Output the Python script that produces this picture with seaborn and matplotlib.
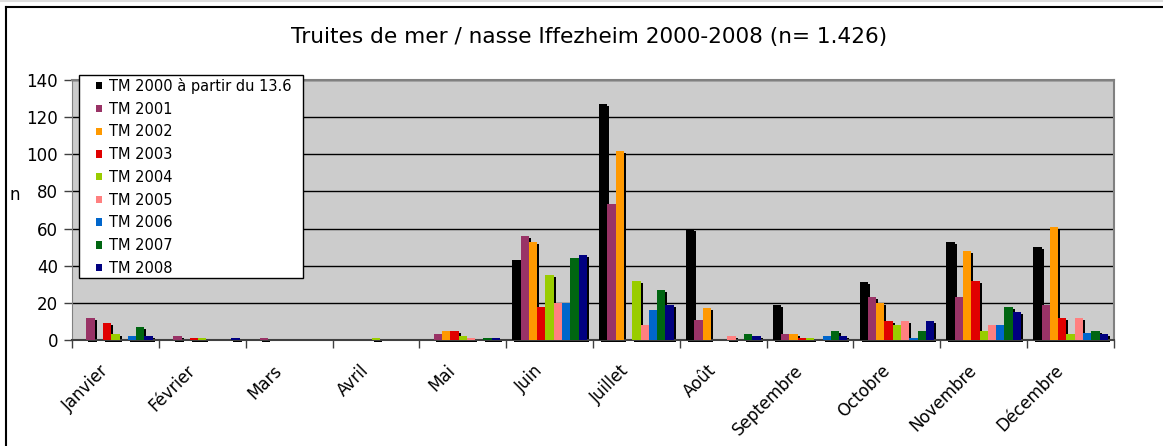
import pandas as pd
import numpy as np
import matplotlib
matplotlib.use("Agg")
import matplotlib.pyplot as plt
import matplotlib.transforms as mtransforms
from matplotlib.patches import Rectangle
from matplotlib.lines import Line2D
import seaborn as sns

# monthly counts of sea trout at the Iffezheim trap
mois = ["Janvier", "Février", "Mars", "Avril", "Mai", "Juin", "Juillet",
        "Août", "Septembre", "Octobre", "Novembre", "Décembre"]
series = ["TM 2000 à partir du 13.6", "TM 2001", "TM 2002", "TM 2003", "TM 2004",
          "TM 2005", "TM 2006", "TM 2007", "TM 2008"]
tm2000 = [0, 0, 0, 0, 0, 43, 127, 60, 19, 31, 53, 50]
tm2001 = [12, 2, 1, 0, 3, 56, 73, 11, 3, 23, 23, 19]
tm2002 = [0, 0, 0, 0, 5, 53, 102, 17, 3, 20, 48, 61]
tm2003 = [9, 1, 0, 0, 5, 18, 0, 0, 1, 10, 32, 12]
tm2004 = [3, 1, 0, 1, 2, 35, 32, 0, 1, 8, 5, 3]
tm2005 = [0, 0, 0, 0, 1, 20, 8, 2, 0, 10, 8, 12]
tm2006 = [2, 0, 0, 0, 0, 20, 16, 0, 2, 1, 8, 4]
tm2007 = [7, 0, 0, 0, 1, 44, 27, 3, 5, 5, 18, 5]
tm2008 = [2, 1, 0, 0, 1, 46, 19, 2, 2, 10, 15, 3]
colors = ["#000000", "#993366", "#FF9900", "#E00000", "#99CC00",
          "#FF8080", "#0066CC", "#006611", "#000080"]

values = [tm2000, tm2001, tm2002, tm2003, tm2004, tm2005, tm2006, tm2007, tm2008]
rows = []
for s, vals in zip(series, values):
    for m, v in zip(mois, vals):
        rows.append({"Mois": m, "n": v, "Serie": s})
data = pd.DataFrame(rows)

W, H = 1163, 446
fig = plt.figure(figsize=(W / 100, H / 100), dpi=100)
ax = fig.add_axes([72 / W, 1 - 340 / H, (1114 - 72) / W, 260 / H])
ax.set_facecolor("#CCCCCC")

sns.barplot(data=data, x="Mois", y="n", hue="Serie", order=mois, hue_order=series,
            palette=colors, width=0.86, gap=0, saturation=1, errorbar=None,
            edgecolor="none", linewidth=0, ax=ax, zorder=3)

# black drop shadow behind each bar
shadow = mtransforms.offset_copy(ax.transData, fig=fig, x=2, y=-2, units="dots")
for p in list(ax.patches):
    if p.get_height() > 0:
        ax.add_patch(Rectangle((p.get_x(), p.get_y()), p.get_width(), p.get_height(),
                               facecolor="black", edgecolor="none", transform=shadow,
                               zorder=2, clip_on=False))

ax.set_ylim(0, 140)
ax.set_xlim(-0.5, 11.5)
ax.set_yticks(np.arange(0, 141, 20))
ax.yaxis.grid(True, color="black", linewidth=1)
ax.set_axisbelow(True)
ax.set_xlabel("")
ax.set_ylabel("")
for side in ["top", "right"]:
    ax.spines[side].set_color("#808080")
    ax.spines[side].set_linewidth(1.5)
ax.spines["left"].set_color("#808080")
ax.spines["bottom"].set_color("#404040")
ax.spines["bottom"].set_linewidth(1.5)

ax.tick_params(axis="y", labelsize=12, length=6, width=1, color="#404040", pad=4)
ax.tick_params(axis="x", which="major", length=0, pad=20)
ax.set_xticks(np.arange(-0.5, 12, 1), minor=True)
ax.tick_params(axis="x", which="minor", length=6, width=1, color="#404040")
ax.set_xticks(range(len(mois)))
ax.set_xticklabels(mois, rotation=45, ha="right", va="center",
                   rotation_mode="anchor", fontsize=12)
shift = mtransforms.ScaledTranslation(-10 / 100, 0, fig.dpi_scale_trans)
for lab in ax.get_xticklabels():
    lab.set_transform(lab.get_transform() + shift)

handles, labels = ax.get_legend_handles_labels()
leg = ax.legend(handles, labels, loc="upper left",
                bbox_to_anchor=(96 / W, 1 - 78 / H), bbox_transform=fig.transFigure,
                fontsize=10.5, frameon=False, borderaxespad=0, borderpad=0,
                handlelength=0.4, handleheight=0.4, handletextpad=0.5,
                labelspacing=0.53)
leg.set_zorder(10)
# legend box, drawn in the axes just under the legend
ax.add_patch(Rectangle((79 / W, 1 - 278 / H), (303 - 79) / W, (278 - 75) / H,
                       facecolor="white", edgecolor="black", linewidth=1,
                       transform=fig.transFigure, zorder=9, clip_on=False))

fig.text(589 / W, 1 - 37 / H, "Truites de mer / nasse Iffezheim 2000-2008 (n= 1.426)",
         ha="center", va="center", fontsize=15.6)
fig.text(15 / W, 1 - 195 / H, "n", ha="center", va="center", fontsize=12)

# outer chart frame
fig.add_artist(Line2D([6 / W, 6 / W], [0, 1 - 7 / H], color="black",
                      linewidth=1.5, transform=fig.transFigure))
fig.add_artist(Line2D([6 / W, 1], [1 - 7 / H, 1 - 7 / H], color="black",
                      linewidth=1.5, transform=fig.transFigure))
fig.add_artist(Line2D([0, 1], [1 - 0.5 / H, 1 - 0.5 / H], color="#DDDDDD",
                      linewidth=1.5, transform=fig.transFigure))

plt.savefig("out.png", dpi=100)
